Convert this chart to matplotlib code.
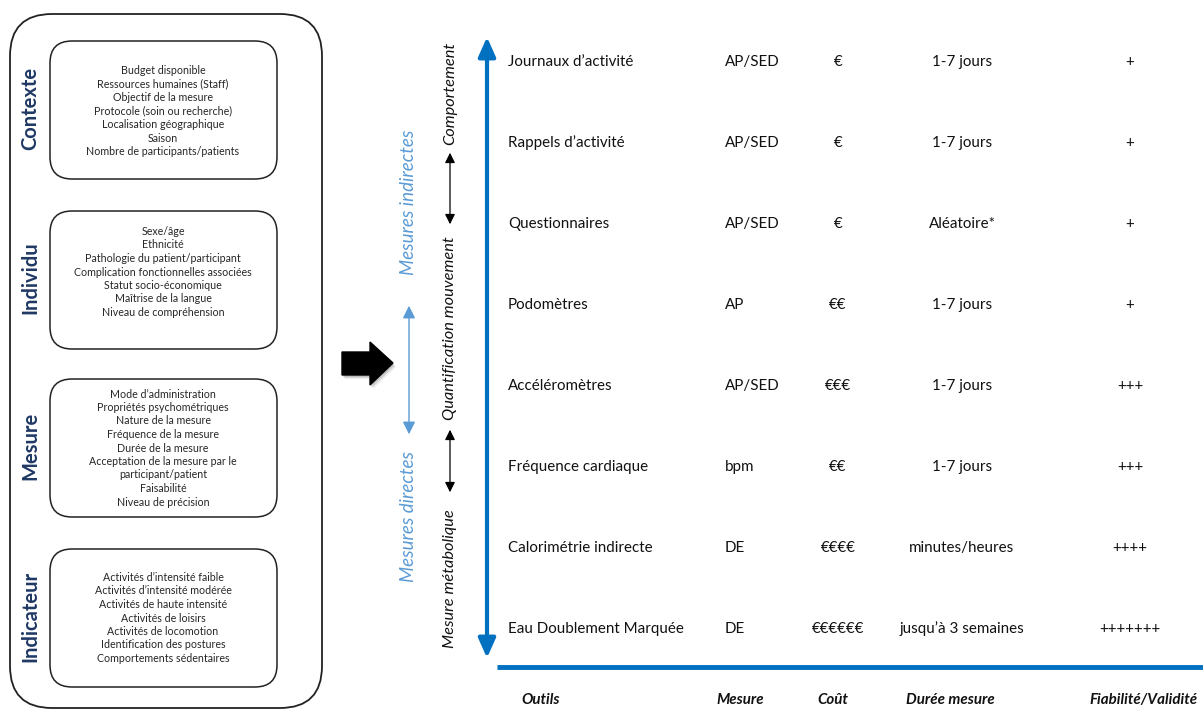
import matplotlib.pyplot as plt
from matplotlib.patches import FancyBboxPatch, FancyArrowPatch, Polygon

# Left panel: factors to consider
group_labels = ["Contexte", "Individu", "Mesure", "Indicateur"]
group_items = [
    ["Budget disponible", "Ressources humaines (Staff)", "Objectif de la mesure",
     "Protocole (soin ou recherche)", "Localisation géographique", "Saison",
     "Nombre de participants/patients"],
    ["Sexe/âge", "Ethnicité", "Pathologie du patient/participant",
     "Complication fonctionnelles associées", "Statut socio-économique",
     "Maîtrise de la langue", "Niveau de compréhension"],
    ["Mode d\u2019administration", "Propriétés psychométriques", "Nature de la mesure",
     "Fréquence de la mesure", "Durée de la mesure", "Acceptation de la mesure par le",
     "participant/patient", "Faisabilité", "Niveau de précision"],
    ["Activités d\u2019intensité faible", "Activités d\u2019intensité modérée",
     "Activités de haute intensité", "Activités de loisirs", "Activités de locomotion",
     "Identification des postures", "Comportements sédentaires"],
]

# Right panel: measurement tools table
tools = ["Journaux d\u2019activité", "Rappels d\u2019activité", "Questionnaires", "Podomètres",
         "Accéléromètres", "Fréquence cardiaque", "Calorimétrie indirecte",
         "Eau Doublement Marquée"]
mesures = ["AP/SED", "AP/SED", "AP/SED", "AP", "AP/SED", "bpm", "DE", "DE"]
couts = ["€", "€", "€", "€€", "€€€", "€€", "€€€€", "€€€€€€"]
durees = ["1-7 jours", "1-7 jours", "Aléatoire*", "1-7 jours", "1-7 jours", "1-7 jours",
          "minutes/heures", "jusqu\u2019à 3 semaines"]
fiabilites = ["+", "+", "+", "+", "+++", "+++", "++++", "+++++++"]
headers = ["Outils", "Mesure", "Coût", "Durée mesure", "Fiabilité/Validité"]

NAVY = "#1F3864"
BLUE = "#0070C0"
LIGHT = "#5B9BD5"
plt.rcParams['font.family'] = ["Lato", "DejaVu Sans"]

fig = plt.figure(figsize=(12.03, 7.09), dpi=100)
ax = fig.add_axes([0, 0, 1, 1])
ax.set_xlim(0, 1203)
ax.set_ylim(709, 0)
ax.axis("off")

# outer rounded frame
ax.add_patch(FancyBboxPatch((10, 14), 312, 694, boxstyle="round,pad=0,rounding_size=42",
                            fc="white", ec="#222222", lw=1.3))

box_tops = [41, 211, 379, 549]
text_shift = [1, -8, 0, 0]
box_h = 138
for top, shift, label, items in zip(box_tops, text_shift, group_labels, group_items):
    ax.add_patch(FancyBboxPatch((50, top), 227, box_h, boxstyle="round,pad=0,rounding_size=22",
                                fc="white", ec="#222222", lw=1.1))
    ax.text(30, top + box_h / 2 - 2, label, rotation=90, ha="center", va="center",
            fontsize=14.5, fontweight="bold", color=NAVY)
    n = len(items)
    step = 13.5
    y0 = top + box_h / 2 + shift - (n - 1) * step / 2
    for i, it in enumerate(items):
        ax.text(163, y0 + i * step, it, ha="center", va="center", fontsize=7.7, color="#262626")

# big black block arrow with soft shadow
arrow_pts = [(342, 352), (370, 352), (370, 342), (393, 363), (370, 385), (370, 375), (342, 375)]
for k, a in [(4, 0.12), (3, 0.18), (2, 0.25)]:
    ax.add_patch(Polygon([(x + k - 1, y + k) for x, y in arrow_pts], closed=True, fc="#777777",
                         ec="none", alpha=a))
ax.add_patch(Polygon(arrow_pts, closed=True, fc="black", ec="black", lw=1))

# light blue double arrow and labels
ax.add_patch(FancyArrowPatch((409, 437), (409, 303), arrowstyle="<|-|>,head_length=5,head_width=2.5",
                             color=LIGHT, lw=1, mutation_scale=1.5))
ax.text(409, 202, "Mesures indirectes", rotation=90, ha="center", va="center",
        fontsize=13.5, style="italic", color=LIGHT)
ax.text(409, 517, "Mesures directes", rotation=90, ha="center", va="center",
        fontsize=13.5, style="italic", color=LIGHT)

# black column: levels of measurement
ax.text(450, 93, "Comportement", rotation=90, ha="center", va="center",
        fontsize=11.8, style="italic", color="#111111")
ax.text(450, 328, "Quantification mouvement", rotation=90, ha="center", va="center",
        fontsize=11.8, style="italic", color="#111111")
ax.text(450, 579, "Mesure métabolique", rotation=90, ha="center", va="center",
        fontsize=11.8, style="italic", color="#111111")
for ya, yb in [(150, 227), (427, 495)]:
    ax.add_patch(FancyArrowPatch((450, ya), (450, yb), arrowstyle="<|-|>,head_length=4,head_width=2",
                                 color="black", lw=0.9, mutation_scale=1.5))

# main blue axis arrow and baseline
ax.add_patch(FancyArrowPatch((487, 658), (487, 37), arrowstyle="<|-|>,head_length=9,head_width=4",
                             color=BLUE, lw=3, mutation_scale=1.3, shrinkA=0, shrinkB=0))
ax.plot([497, 1203], [667, 667], color=BLUE, lw=3.5, solid_capstyle="butt")

# table rows
row_y0, row_step = 62, 81
for i, (t, m, c, d, f) in enumerate(zip(tools, mesures, couts, durees, fiabilites)):
    y = row_y0 + i * row_step
    ax.text(508, y, t, ha="left", va="center", fontsize=10.9, color="#111111")
    ax.text(725, y, m, ha="left", va="center", fontsize=10.9, color="#111111")
    ax.text(838, y, c, ha="center", va="center", fontsize=10.9, color="#111111")
    ax.text(962, y, d, ha="center", va="center", fontsize=10.9, color="#111111")
    ax.text(1130, y, f, ha="center", va="center", fontsize=10.9, color="#111111")

header_x = [541, 740, 833, 950, 1143]
for hx, h in zip(header_x, headers):
    ax.text(hx, 700, h, ha="center", va="center", fontsize=10.9, style="italic",
            fontweight="bold", color="#111111")

fig.savefig("out.png", dpi=100)
